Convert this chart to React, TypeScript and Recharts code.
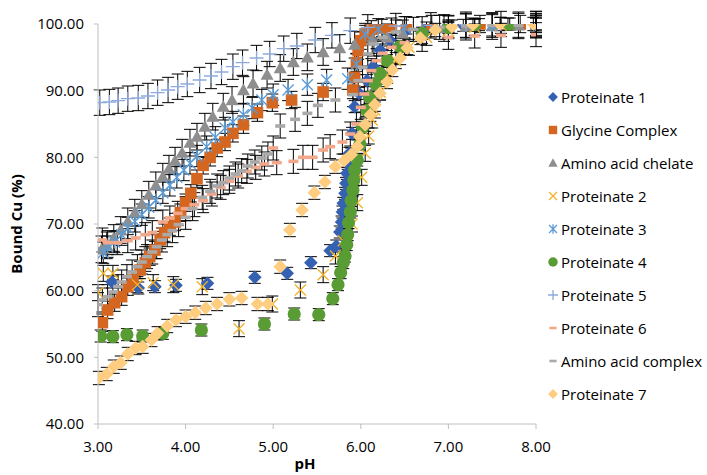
import { ScatterChart, Scatter, XAxis, YAxis, ErrorBar } from 'recharts';

type Pt = [number, number];

// pH, bound Cu (%)
const proteinate1: Pt[] = [
  [3.16, 61.3], [3.46, 60.4], [3.65, 60.6], [3.89, 60.8], [4.25, 61.1], [4.79, 62.0], [5.16, 62.6],
  [5.43, 64.2], [5.65, 66.0], [5.72, 66.7], [5.76, 68.8], [5.78, 70.3], [5.79, 71.8], [5.8, 73.1],
  [5.82, 74.6], [5.83, 76.1], [5.84, 77.6], [5.85, 79.1], [5.87, 80.6], [5.9, 83.6], [5.93, 87.6],
  [5.98, 89.6], [6.07, 91.5], [6.14, 93.6], [6.22, 96.1], [6.33, 97.6], [6.5, 98.8], [6.75, 99.4],
  [7.0, 99.7], [7.17, 99.8], [7.35, 99.9], [7.68, 100], [8.0, 100],
];

const glycineComplex: Pt[] = [
  [3.05, 55.2], [3.11, 57.1], [3.19, 58.2], [3.27, 59.1], [3.34, 60.6], [3.4, 61.6], [3.48, 63.1],
  [3.54, 64.2], [3.59, 65.1], [3.65, 66.1], [3.71, 67.6], [3.76, 68.7], [3.82, 69.6], [3.88, 70.3],
  [3.94, 71.7], [4.0, 73.2], [4.06, 74.6], [4.13, 76.8], [4.2, 78.8], [4.28, 80.0], [4.36, 81.4],
  [4.45, 82.3], [4.54, 83.6], [4.66, 84.9], [4.82, 86.7], [4.99, 88.2], [5.21, 88.6], [5.57, 89.8],
  [5.91, 90.1], [5.93, 92.0], [5.95, 94.2], [5.97, 96.0], [6.0, 97.5], [6.05, 98.5], [6.12, 99.2],
  [6.24, 99.4], [6.35, 99.6], [6.52, 99.8], [6.81, 100], [7.0, 100], [7.36, 100], [7.82, 100], [8.0, 100],
];

const aminoAcidChelate: Pt[] = [
  [3.04, 66.2], [3.1, 66.8], [3.18, 67.9], [3.26, 69.1], [3.34, 70.4], [3.42, 71.7], [3.5, 73.0],
  [3.58, 74.4], [3.66, 75.8], [3.74, 77.1], [3.81, 78.3], [3.88, 79.5], [3.96, 80.7], [4.05, 82.2],
  [4.13, 83.1], [4.22, 84.6], [4.31, 86.1], [4.43, 87.6], [4.53, 88.6], [4.66, 90.1], [4.77, 91.1],
  [4.93, 92.4], [5.08, 93.4], [5.23, 94.3], [5.39, 95.0], [5.57, 95.8], [5.76, 96.4], [5.93, 96.9],
  [6.13, 97.6], [6.3, 98.0], [6.48, 98.6], [6.7, 99.1], [6.95, 99.4], [7.2, 99.6], [7.5, 99.7],
  [7.8, 99.8], [8.0, 99.9],
];

const proteinate2: Pt[] = [
  [3.0, 59.7], [3.06, 62.6], [3.17, 62.6], [3.45, 60.9], [3.63, 61.2], [3.86, 60.9], [4.19, 60.6],
  [4.61, 54.3], [4.99, 58.0], [5.31, 60.1], [5.57, 62.4], [5.71, 65.2], [5.8, 67.5], [5.9, 70.0],
  [5.96, 73.2], [6.01, 77.0], [6.05, 80.6], [6.09, 83.2], [6.13, 85.6], [6.16, 87.1], [6.22, 89.8],
  [6.3, 92.3], [6.4, 94.5], [6.55, 96.5], [6.75, 98.0], [7.0, 99.0], [7.3, 99.5], [7.6, 99.8], [8.0, 100],
];

const proteinate3: Pt[] = [
  [3.06, 65.7], [3.11, 66.6], [3.19, 67.3], [3.27, 68.4], [3.34, 69.4], [3.42, 70.4], [3.5, 71.4],
  [3.58, 72.5], [3.66, 73.6], [3.74, 74.7], [3.82, 75.8], [3.9, 77.0], [3.98, 78.1], [4.05, 79.1],
  [4.13, 80.2], [4.24, 81.6], [4.34, 83.0], [4.45, 84.4], [4.54, 85.3], [4.66, 86.4], [4.76, 87.4],
  [4.87, 88.6], [5.0, 89.4], [5.17, 90.1], [5.39, 90.9], [5.61, 91.6], [5.85, 91.8], [5.95, 94.0],
  [6.05, 98.5], [6.2, 99.2], [6.5, 99.5], [7.0, 99.6], [7.5, 99.8], [8.0, 99.9],
];

const proteinate4: Pt[] = [
  [3.03, 53.2], [3.17, 53.1], [3.33, 53.4], [3.51, 53.2], [3.74, 53.6], [4.18, 54.1], [4.9, 55.0],
  [5.24, 56.5], [5.52, 56.4], [5.68, 58.8], [5.74, 60.9], [5.77, 62.7], [5.8, 64.2], [5.82, 65.2],
  [5.84, 66.9], [5.85, 68.4], [5.86, 70.2], [5.88, 71.8], [5.89, 73.5], [5.91, 75.1], [5.92, 76.6],
  [5.93, 78.1], [5.96, 79.6], [5.99, 82.0], [6.02, 84.5], [6.07, 87.0], [6.1, 89.0], [6.17, 91.0],
  [6.22, 92.6], [6.3, 94.5], [6.45, 96.6], [6.7, 98.6], [7.0, 99.5], [7.3, 99.9], [7.7, 100], [8.0, 100],
];

const proteinate5: Pt[] = [
  [3.02, 88.2], [3.13, 88.3], [3.23, 88.5], [3.34, 88.8], [3.46, 88.9], [3.57, 89.2], [3.68, 89.7],
  [3.8, 90.1], [3.91, 90.6], [4.02, 91.0], [4.16, 91.6], [4.29, 92.2], [4.41, 92.8], [4.54, 93.6],
  [4.65, 94.2], [4.81, 94.9], [4.96, 95.5], [5.12, 96.3], [5.27, 96.7], [5.48, 97.6], [5.67, 98.3],
  [5.88, 99.0], [6.08, 99.5], [6.4, 99.7], [6.8, 99.8], [7.2, 99.9], [7.6, 100], [8.0, 100],
];

const proteinate6: Pt[] = [
  [3.05, 67.6], [3.11, 67.2], [3.22, 67.2], [3.34, 67.5], [3.43, 67.9], [3.54, 68.4], [3.62, 68.7],
  [3.74, 70.3], [3.82, 70.9], [3.91, 71.6], [4.0, 72.3], [4.1, 72.9], [4.2, 73.5], [4.3, 74.5],
  [4.4, 75.5], [4.5, 76.4], [4.6, 77.2], [4.7, 77.9], [4.8, 78.5], [4.9, 79.0], [5.0, 81.4],
  [5.04, 79.2], [5.23, 79.4], [5.34, 80.0], [5.45, 80.0], [5.57, 81.1], [5.65, 81.6], [5.79, 82.3],
  [5.88, 83.5], [5.95, 85.0], [6.0, 87.5], [6.04, 89.5], [6.08, 91.5], [6.12, 93.0], [6.18, 94.5],
  [6.25, 95.6], [6.35, 96.5], [6.5, 97.2], [6.7, 97.7], [7.0, 98.0], [7.3, 98.2], [7.6, 98.3], [8.0, 98.4],
];

const aminoAcidComplex: Pt[] = [
  [3.0, 57.9], [3.05, 58.6], [3.11, 59.1], [3.17, 59.8], [3.23, 60.6], [3.27, 61.3], [3.33, 62.1],
  [3.39, 62.8], [3.45, 63.6], [3.5, 64.3], [3.56, 65.1], [3.62, 65.8], [3.67, 66.6], [3.73, 67.6],
  [3.79, 68.4], [3.85, 69.0], [3.92, 69.9], [4.0, 71.0], [4.08, 72.3], [4.19, 74.0], [4.28, 74.9],
  [4.36, 75.7], [4.43, 76.2], [4.5, 76.9], [4.57, 77.5], [4.64, 78.0], [4.71, 78.7], [4.79, 79.3],
  [4.87, 79.9], [4.94, 80.5], [5.08, 84.7], [5.25, 85.7], [5.39, 86.6], [5.51, 87.8], [5.71, 88.6],
  [5.91, 89.4], [5.97, 91.5], [6.02, 93.5], [6.08, 95.5], [6.15, 97.0], [6.25, 98.0], [6.4, 98.8],
  [6.6, 99.2], [6.9, 99.5], [7.2, 99.7], [7.5, 99.8], [7.8, 99.8], [8.0, 99.8],
];

const proteinate7: Pt[] = [
  [3.01, 46.9], [3.1, 47.5], [3.18, 48.6], [3.26, 49.2], [3.34, 50.5], [3.43, 51.4], [3.51, 51.6],
  [3.61, 52.6], [3.68, 53.6], [3.79, 54.7], [3.89, 55.6], [4.0, 56.1], [4.11, 56.7], [4.23, 57.4],
  [4.36, 58.0], [4.5, 58.7], [4.64, 58.9], [4.82, 58.0], [4.94, 58.0], [5.08, 63.6], [5.19, 69.1],
  [5.33, 72.1], [5.47, 74.7], [5.59, 76.3], [5.71, 78.6], [5.81, 79.5], [5.89, 80.4], [5.96, 81.6],
  [5.99, 83.1], [6.05, 84.9], [6.11, 86.4], [6.16, 87.9], [6.22, 89.6], [6.3, 91.3], [6.36, 93.1],
  [6.45, 94.9], [6.53, 96.4], [6.68, 97.9], [6.85, 99.1], [7.04, 99.6], [7.28, 99.9], [7.59, 100], [7.97, 100],
];

const seriesNames = [
  'Proteinate 1', 'Glycine Complex', 'Amino acid chelate', 'Proteinate 2', 'Proteinate 3',
  'Proteinate 4', 'Proteinate 5', 'Proteinate 6', 'Amino acid complex', 'Proteinate 7',
];
// +/- error, % bound
const errorSizes = [0.9, 1.3, 2.0, 1.2, 1.6, 0.9, 1.9, 1.8, 1.8, 1.0];

const xTicks = [3, 4, 5, 6, 7, 8];
const yTicks = [40, 50, 60, 70, 80, 90, 100];

type Kind = 'diamond' | 'square' | 'triangle' | 'x' | 'asterisk' | 'circle' | 'plus' | 'dash';

const SERIES: { points: Pt[]; kind: Kind; color: string }[] = [
  { points: proteinate1, kind: 'diamond', color: '#3561B3' },
  { points: glycineComplex, kind: 'square', color: '#D5661F' },
  { points: aminoAcidChelate, kind: 'triangle', color: '#8E8E8E' },
  { points: proteinate2, kind: 'x', color: '#F2B127' },
  { points: proteinate3, kind: 'asterisk', color: '#5B9BD5' },
  { points: proteinate4, kind: 'circle', color: '#5A9C34' },
  { points: proteinate5, kind: 'plus', color: '#8EAADC' },
  { points: proteinate6, kind: 'dash', color: '#F3A78A' },
  { points: aminoAcidComplex, kind: 'dash', color: '#A9A9A9' },
  { points: proteinate7, kind: 'diamond', color: '#FFCD80' },
];

const FONT = '"Open Sans", sans-serif';
const AXIS_COLOR = '#BFBFBF';

function Marker({ kind, color, cx, cy, k = 1 }: { kind: Kind; color: string; cx: number; cy: number; k?: number }) {
  switch (kind) {
    case 'diamond': {
      const s = 6.8 * k;
      return <path d={`M${cx},${cy - s}L${cx + s},${cy}L${cx},${cy + s}L${cx - s},${cy}Z`} fill={color} />;
    }
    case 'square': {
      const s = 5.8 * k;
      return <rect x={cx - s} y={cy - s} width={2 * s} height={2 * s} fill={color} />;
    }
    case 'triangle': {
      const s = 6.5 * k;
      return <path d={`M${cx},${cy - s}L${cx + s},${cy + s * 0.8}L${cx - s},${cy + s * 0.8}Z`} fill={color} />;
    }
    case 'x': {
      const s = 5.5 * k;
      return (
        <path d={`M${cx - s},${cy - s}L${cx + s},${cy + s}M${cx + s},${cy - s}L${cx - s},${cy + s}`}
          stroke={color} strokeWidth={1.3} fill="none" />
      );
    }
    case 'asterisk': {
      const s = 5.5 * k;
      return (
        <path d={`M${cx - s},${cy - s}L${cx + s},${cy + s}M${cx + s},${cy - s}L${cx - s},${cy + s}M${cx},${cy - s * 1.2}L${cx},${cy + s * 1.2}`}
          stroke={color} strokeWidth={1.3} fill="none" />
      );
    }
    case 'circle':
      return <circle cx={cx} cy={cy} r={6.6 * k} fill={color} />;
    case 'plus': {
      const s = 7 * k;
      return (
        <path d={`M${cx - s},${cy}L${cx + s},${cy}M${cx},${cy - s}L${cx},${cy + s}`}
          stroke={color} strokeWidth={1.3} fill="none" />
      );
    }
    case 'dash':
      return <rect x={cx - 5 * k} y={cy - 1.8 * k} width={10 * k} height={3.6 * k} fill={color} />;
  }
  return null;
}

function LegendBox() {
  return (
    <div style={{ position: 'absolute', left: 546, top: 80, fontFamily: FONT, fontSize: 15, color: '#000' }}>
      {SERIES.map((s, i) => (
        <div key={i} style={{ display: 'flex', alignItems: 'center', height: 33 }}>
          <svg width={14} height={14} style={{ marginRight: 1 }}>
            <Marker kind={s.kind} color={s.color} cx={7} cy={7} k={0.72} />
          </svg>
          <span style={{ whiteSpace: 'nowrap' }}>{seriesNames[i]}</span>
        </div>
      ))}
    </div>
  );
}

export default function App() {
  return (
    <div style={{ position: 'absolute', left: 0, top: 0, width: 707, height: 475, background: '#fff' }}>
      <ScatterChart width={707} height={475} margin={{ top: 24, right: 171, bottom: 0, left: 0 }}>
        <XAxis
          type="number"
          dataKey="x"
          domain={[3, 8]}
          ticks={xTicks}
          allowDataOverflow
          tickFormatter={(v: number) => v.toFixed(2)}
          height={51}
          stroke={AXIS_COLOR}
          tickSize={5}
          tickMargin={12}
          tick={{ fill: '#000', fontSize: 15, fontFamily: FONT }}
          label={{ value: 'pH', position: 'insideBottom', offset: 6, dx: -12, fill: '#000', fontSize: 15, fontWeight: 'bold', fontFamily: FONT }}
        />
        <YAxis
          type="number"
          dataKey="y"
          domain={[40, 100]}
          ticks={yTicks}
          allowDataOverflow
          tickFormatter={(v: number) => v.toFixed(2)}
          width={98}
          stroke={AXIS_COLOR}
          tickSize={4}
          tickMargin={10}
          tick={{ fill: '#000', fontSize: 15, fontFamily: FONT }}
          label={{ value: 'Bound Cu (%)', angle: -90, position: 'insideLeft', offset: 17, fill: '#000', fontSize: 15, fontWeight: 'bold', fontFamily: FONT, style: { textAnchor: 'middle' } }}
        />
        {SERIES.map((s, i) => (
          <Scatter
            key={i}
            name={seriesNames[i]}
            data={s.points.map(([x, y]) => ({ x, y, e: errorSizes[i] }))}
            isAnimationActive={false}
            shape={(p: any) => <Marker kind={s.kind} color={s.color} cx={p.cx} cy={p.cy} />}
          >
            <ErrorBar dataKey="e" direction="y" width={6} stroke="#000" strokeWidth={1} />
          </Scatter>
        ))}
      </ScatterChart>
      <LegendBox />
    </div>
  );
}
